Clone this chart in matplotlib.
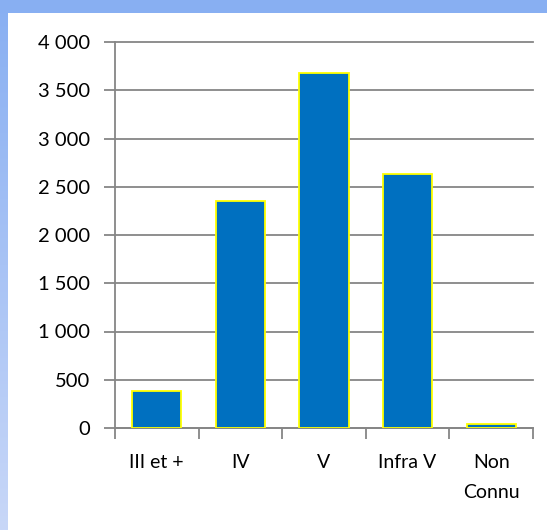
import numpy as np
import matplotlib.pyplot as plt
from matplotlib.ticker import FuncFormatter, FixedLocator

# data
categories = ["III et +", "IV", "V", "Infra V", "Non\nConnu"]
values = [388, 2353, 3678, 2636, 45]
yticks = [0, 500, 1000, 1500, 2000, 2500, 3000, 3500, 4000]

plt.rcParams['font.family'] = ['Lato', 'DejaVu Sans']

fig = plt.figure(figsize=(5.47, 5.30), dpi=100)
fig.patch.set_facecolor("white")

# blue frame: gradient band on the left, flat band on the top
bg = fig.add_axes([0, 0, 1, 1], zorder=-10)
grad = np.linspace(0, 1, 256).reshape(-1, 1)
top_col = np.array([0x88, 0xAF, 0xF2]) / 255
bot_col = np.array([0xC8, 0xD7, 0xF8]) / 255
img = top_col + (bot_col - top_col) * grad[:, :, None]
bg.imshow(img, extent=[0, 8 / 547, 0, 1], aspect="auto", origin="upper")
bg.add_patch(plt.Rectangle((0, 1 - 13 / 530), 1, 13 / 530, color="#88AFF2", lw=0))
bg.set_xlim(0, 1)
bg.set_ylim(0, 1)
bg.axis("off")

ax = fig.add_axes([115 / 547, 1 - 428 / 530, 418 / 547, 386 / 530])
x = np.arange(len(categories))
ax.bar(x, values, width=0.59, color="#0070C0", edgecolor="#FFFF00", linewidth=1.3, zorder=3)

ax.set_xlim(-0.5, len(categories) - 0.5)
ax.set_ylim(0, 4000)
ax.set_yticks(yticks)
ax.yaxis.set_major_formatter(FuncFormatter(lambda v, p: f"{int(v):,}".replace(",", " ")))
ax.grid(axis="y", color="#868686", linewidth=1.3, zorder=0)
for gl in ax.get_ygridlines():
    gl.set_clip_on(False)

ax.set_xticks(x)
ax.set_xticklabels(categories, va="top", linespacing=1.9)
ax.xaxis.set_minor_locator(FixedLocator(np.arange(-0.5, len(categories), 1)))
ax.tick_params(axis="x", which="major", length=0, pad=19, labelsize=14)
ax.tick_params(axis="x", which="minor", length=8, width=1.3, color="#868686", direction="out")
ax.tick_params(axis="y", length=8, width=1.3, color="#868686", pad=10, labelsize=14.5)

for s in ["top", "right"]:
    ax.spines[s].set_visible(False)
for s in ["left", "bottom"]:
    ax.spines[s].set_color("#868686")
    ax.spines[s].set_linewidth(1.3)

fig.savefig("out.png", dpi=100)
